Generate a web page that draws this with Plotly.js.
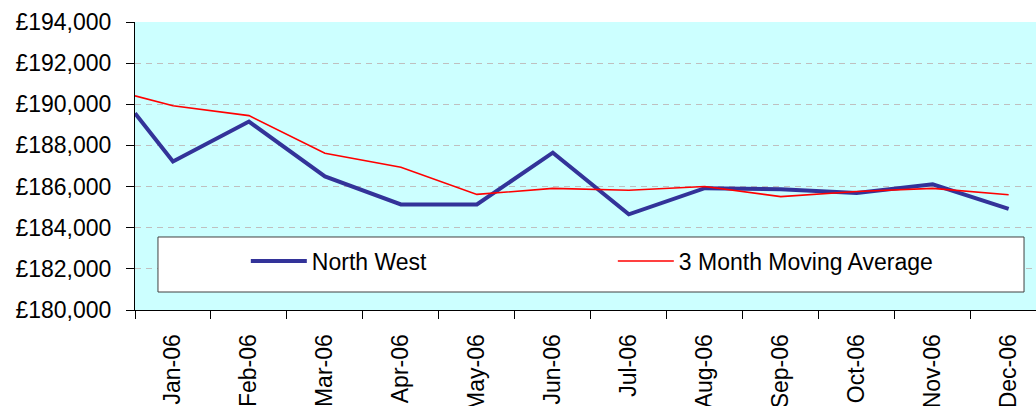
<!DOCTYPE html>
<html>
<head>
<meta charset="utf-8">
<script src="https://cdn.plot.ly/plotly-3.0.1.min.js"></script>
<style>html,body{margin:0;padding:0;background:#fff;}#chart{width:1036px;height:406px;}</style>
</head>
<body>
<div id="chart"></div>
<script>
// Category labels (months)
var monthLabels = ['Jan-06','Feb-06','Mar-06','Apr-06','May-06','Jun-06','Jul-06','Aug-06','Sep-06','Oct-06','Nov-06','Dec-06'];
// Position of each data point along the month axis (first point sits at the axis edge)
var monthIndex = [-0.5, 0, 1, 2, 3, 4, 5, 6, 7, 8, 9, 10, 11];
// Series values
var northWest = [189560, 187220, 189160, 186490, 185130, 185130, 187650, 184650, 185920, 185870, 185690, 186110, 184920];
var movingAvg = [190410, 189930, 189450, 187620, 186940, 185620, 185910, 185820, 186000, 185510, 185760, 185910, 185600];
var seriesNames = ['North West', '3 Month Moving Average'];
// Y tick values
var yTicks = [180000, 182000, 184000, 186000, 188000, 190000, 192000, 194000];
var yTickText = yTicks.map(function(v){ return '\u00A3' + v.toLocaleString('en-GB'); });

var labelPos = monthLabels.map(function(_, i){ return i; });
var boundaryPos = [-0.5].concat(monthLabels.map(function(_, i){ return i + 0.5; }));

var FONT = 'Liberation Sans, Arial, sans-serif';
var xRange = [-0.5, 11.36];

var traces = [
  {x: monthIndex, y: northWest, name: seriesNames[0], type: 'scatter', mode: 'lines',
   line: {color: '#333399', width: 4}},
  {x: monthIndex, y: movingAvg, name: seriesNames[1], type: 'scatter', mode: 'lines',
   line: {color: '#FF0000', width: 1.6}}
];

var layout = {
  width: 1036, height: 406,
  margin: {l: 135, r: 0, t: 22, b: 96, pad: 0},
  paper_bgcolor: '#ffffff',
  plot_bgcolor: '#CCFFFF',
  font: {family: FONT, size: 23, color: '#000'},
  showlegend: true,
  legend: {
    orientation: 'h', x: 0.123, xanchor: 'left', y: 0.17, yanchor: 'middle',
    bgcolor: 'rgba(0,0,0,0)', borderwidth: 0, itemwidth: 56,
    entrywidth: 296, font: {family: FONT, size: 23, color: '#000'},
    traceorder: 'normal'
  },
  xaxis: {
    type: 'linear', range: xRange, tickmode: 'array', tickvals: labelPos, ticktext: monthLabels,
    tickangle: -90, ticks: '', showgrid: false, zeroline: false,
    showline: true, linecolor: '#000', linewidth: 1,
    ticklabelstandoff: 14, tickfont: {family: FONT, size: 23, color: '#000'}, fixedrange: true
  },
  xaxis2: {
    type: 'linear', range: xRange, overlaying: 'x', side: 'bottom', tickmode: 'array',
    tickvals: boundaryPos, ticks: 'outside', ticklen: 8, tickcolor: '#000', tickwidth: 1,
    showticklabels: false, showgrid: false, zeroline: false, showline: false, fixedrange: true
  },
  yaxis: {
    range: [180000, 194000], tickmode: 'array', tickvals: yTicks, ticktext: yTickText,
    ticks: 'outside', ticklen: 8, tickcolor: '#000',
    showline: true, linecolor: '#000', linewidth: 1,
    showgrid: true, gridcolor: '#BFBFBF', griddash: '6px,5px', gridwidth: 1,
    zeroline: false, ticklabelstandoff: 10,
    tickfont: {family: FONT, size: 23, color: '#000'}, fixedrange: true
  },
  shapes: [
    {type: 'rect', xref: 'paper', yref: 'paper', x0: 0.0255, x1: 0.9867, y0: 0.0625, y1: 0.2535,
     fillcolor: '#ffffff', line: {color: '#404040', width: 1}, layer: 'above'}
  ]
};

// helper trace so the boundary tick axis is drawn
traces.push({x: [xRange[0]], y: [null], xaxis: 'x2', showlegend: false, hoverinfo: 'skip', mode: 'lines'});

Plotly.newPlot('chart', traces, layout, {displayModeBar: false, staticPlot: true});
</script>
</body>
</html>
